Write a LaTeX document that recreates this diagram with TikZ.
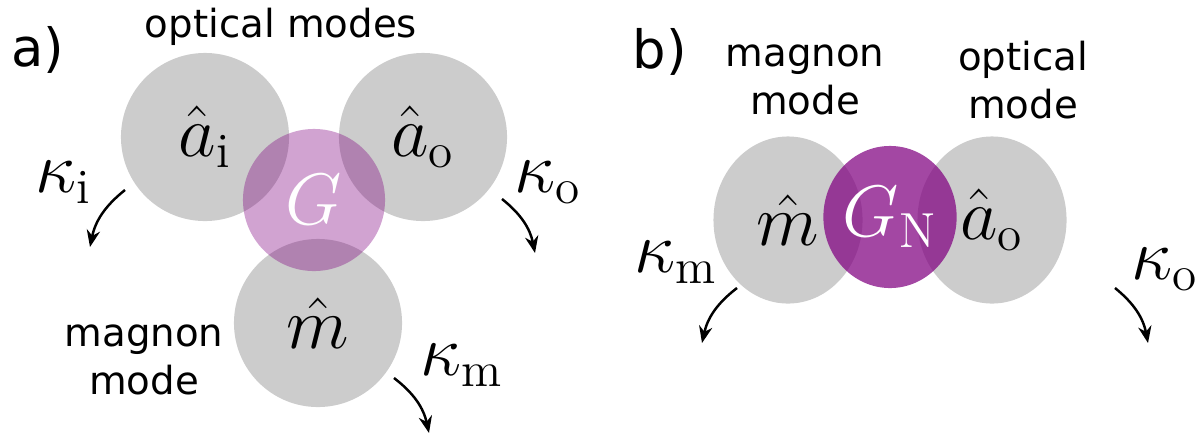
\documentclass[tikz,border=0pt]{standalone}
\usepackage{amsmath}
\usepackage{fontspec}
\usepackage{tikz}
\usetikzlibrary{arrows.meta, shapes.geometric}
\newfontfamily\labelfont{DejaVu Sans}
\definecolor{couplecol}{RGB}{128,0,128}

\begin{document}
\begin{tikzpicture}[x=0.01cm, y=-0.01cm, >={Stealth[length=4.8pt, width=3.8pt]}]
% --- Global Styles ---
\tikzstyle{mode} = [circle, fill=black!20, inner sep=0pt, minimum size=1.68cm, font=\fontsize{20}{24}\selectfont]
\tikzstyle{modeb} = [ellipse, fill=black!20, inner sep=0pt, minimum width=1.49cm, minimum height=1.67cm, font=\fontsize{20}{24}\selectfont]
\tikzstyle{coupling} = [circle, fill=couplecol, fill opacity=0.36, text opacity=1, text=white, inner sep=0pt, minimum size=1.42cm, font=\fontsize{20}{24}\selectfont]
\tikzstyle{couplingb} = [ellipse, fill=couplecol, fill opacity=0.72, text opacity=1, text=white, inner sep=0pt, minimum width=1.27cm, minimum height=1.42cm, font=\fontsize{20}{24}\selectfont]
\tikzstyle{rate} = [font=\fontsize{20}{24}\selectfont]
\tikzstyle{loss} = [->, line width=0.7pt]
\tikzstyle{word} = [align=center, font=\labelfont\fontsize{11}{13.5}\selectfont]
\tikzstyle{panel} = [font=\labelfont\fontsize{15}{18}\selectfont]

\useasboundingbox (0,0) rectangle (1204,436);

% ==========================================
% PANEL a: three modes
% ==========================================
\node[panel] (la) at (38,50) {a)};
\node[word] (opt) at (281,27) {optical modes};
\node[word] (mag) at (144,360) {magnon\\mode};

\node[mode] (ai) at (205,137) {$\hat{a}_{\mathrm{i}}$};
\node[mode] (ao) at (423,137) {$\hat{a}_{\mathrm{o}}$};
\node[mode] (m) at (318,323) {$\hat{m}$};
\node[coupling] (G) at (314,200) {$G$};

% decay rates
\node[rate] (ki) at (64,182) {$\kappa_{\mathrm{i}}$};
\node[rate] (ko) at (548,183) {$\kappa_{\mathrm{o}}$};
\node[rate] (km) at (462,365) {$\kappa_{\mathrm{m}}$};

\coordinate (ki1) at (125,190); \coordinate (ki2) at (90,247);
\coordinate (ko1) at (502,199); \coordinate (ko2) at (535,253);
\coordinate (km1) at (394,378); \coordinate (km2) at (429,433);
\draw[loss] (ki1) to[bend right=20] (ki2);
\draw[loss] (ko1) to[bend left=20] (ko2);
\draw[loss] (km1) to[bend left=20] (km2);

% ==========================================
% PANEL b: two modes
% ==========================================
\node[panel] (lb) at (660,52) {b)};
\node[word] (magb) at (805,80) {magnon\\mode};
\node[word] (optb) at (1023,80) {optical\\mode};

\node[modeb] (mb) at (788,220) {$\hat{m}$};
\node[modeb] (aob) at (992,220) {$\hat{a}_{\mathrm{o}}$};
\node[couplingb] (GN) at (890,217) {$G_{\mathrm{N}}$};

% decay rates
\node[rate] (kmb) at (676,262) {$\kappa_{\mathrm{m}}$};
\node[rate] (kob) at (1165,270) {$\kappa_{\mathrm{o}}$};

\coordinate (kmb1) at (737,288); \coordinate (kmb2) at (702,343);
\coordinate (kob1) at (1115,288); \coordinate (kob2) at (1148,343);
\draw[loss] (kmb1) to[bend right=20] (kmb2);
\draw[loss] (kob1) to[bend left=20] (kob2);

\end{tikzpicture}
\end{document}
